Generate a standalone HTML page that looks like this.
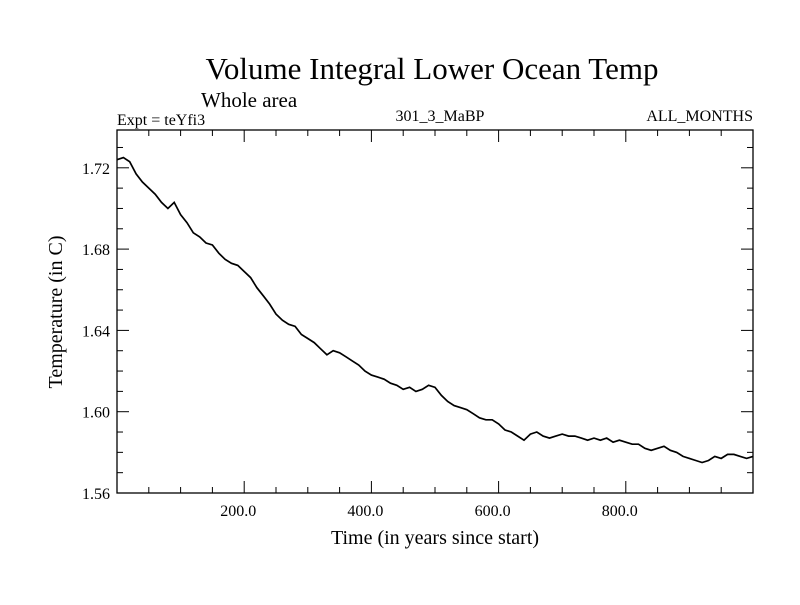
<!DOCTYPE html>
<html><head><meta charset="utf-8"><style>
html,body{margin:0;padding:0;background:#fff;}
svg text{font-family:"Liberation Serif",serif;fill:#000;}
</style></head><body>
<svg width="800" height="600" xmlns="http://www.w3.org/2000/svg">
<rect width="800" height="600" fill="#fff"/>
<text x="432" y="79" font-size="31" text-anchor="middle">Volume Integral Lower Ocean Temp</text>
<text x="201" y="107" font-size="21">Whole area</text>
<text x="117" y="125" font-size="16">Expt = teYfi3</text>
<text x="440" y="121" font-size="16" text-anchor="middle">301_3_MaBP</text>
<text x="753" y="121" font-size="16" text-anchor="end">ALL_MONTHS</text>
<text transform="translate(62,312) rotate(-90)" font-size="20" text-anchor="middle">Temperature (in C)</text>
<text x="435" y="544" font-size="20" text-anchor="middle">Time (in years since start)</text>
<g id="axes"></g>
<rect x="117" y="130" width="636" height="363" fill="none" stroke="#000" stroke-width="1.3"/>
<path id="line" fill="none" stroke="#000" stroke-width="1.7"/>
</svg>
<script>
const years = [0,10,20,30,40,50,60,70,80,90,100,110,120,130,140,150,160,170,180,190,200,210,220,230,240,250,260,270,280,290,300,310,320,330,340,350,360,370,380,390,400,410,420,430,440,450,460,470,480,490,500,510,520,530,540,550,560,570,580,590,600,610,620,630,640,650,660,670,680,690,700,710,720,730,740,750,760,770,780,790,800,810,820,830,840,850,860,870,880,890,900,910,920,930,940,950,960,970,980,990,1000];
const temps = [1.724,1.725,1.723,1.717,1.713,1.710,1.707,1.703,1.700,1.703,1.697,1.693,1.688,1.686,1.683,1.682,1.678,1.675,1.673,1.672,1.669,1.666,1.661,1.657,1.653,1.648,1.645,1.643,1.642,1.638,1.636,1.634,1.631,1.628,1.630,1.629,1.627,1.625,1.623,1.620,1.618,1.617,1.616,1.614,1.613,1.611,1.612,1.610,1.611,1.613,1.612,1.608,1.605,1.603,1.602,1.601,1.599,1.597,1.596,1.596,1.594,1.591,1.590,1.588,1.586,1.589,1.590,1.588,1.587,1.588,1.589,1.588,1.588,1.587,1.586,1.587,1.586,1.587,1.585,1.586,1.585,1.584,1.584,1.582,1.581,1.582,1.583,1.581,1.580,1.578,1.577,1.576,1.575,1.576,1.578,1.577,1.579,1.579,1.578,1.577,1.578];
const xTickLabels = ["200.0","400.0","600.0","800.0"];
const xTickValues = [200,400,600,800];
const yTickLabels = ["1.56","1.60","1.64","1.68","1.72"];
const yTickValues = [1.56,1.60,1.64,1.68,1.72];
const L=117,R=753,T=130,B=493, X0=0,X1=1000, Y0=1.56,Y1=1.7386;
const sx=v=>L+(v-X0)/(X1-X0)*(R-L);
const sy=v=>B-(v-Y0)/(Y1-Y0)*(B-T);
const NS="http://www.w3.org/2000/svg";
const g=document.getElementById('axes');
function ln(x1,y1,x2,y2,name){const e=document.createElementNS(NS,'line');
e.setAttribute('x1',x1);e.setAttribute('y1',y1);e.setAttribute('x2',x2);e.setAttribute('y2',y2);
e.setAttribute('stroke','#000');e.setAttribute('stroke-width','1');


g.appendChild(e);}
function tx(x,y,s,anchor,name){const e=document.createElementNS(NS,'text');
e.setAttribute('x',x);e.setAttribute('y',y);e.setAttribute('font-size','16');e.setAttribute('text-anchor',anchor);e.textContent=s;


g.appendChild(e);}
for(let v=50;v<X1;v+=50){const major=v%200===0;const len=major?12:6;
ln(sx(v),B,sx(v),B-len,'x-tick');ln(sx(v),T,sx(v),T+len,'x-tick-top');}
for(let v=1.57;v<Y1;v+=0.01){const major=Math.round(v*100)%4===0;const len=major?12:6;
ln(L,sy(v),L+len,sy(v),'y-tick');ln(R,sy(v),R-len,sy(v),'y-tick-right');}
xTickValues.forEach((v,i)=>tx(sx(v)-6,B+23,xTickLabels[i],'middle','x-tick-label'));
yTickValues.forEach((v,i)=>tx(L-7,sy(v)+6,yTickLabels[i],'end','y-tick-label'));
document.getElementById('line').setAttribute('d',years.map((y,i)=>(i?'L':'M')+sx(y).toFixed(1)+','+sy(temps[i]).toFixed(1)).join(''));
</script>
</body></html>
